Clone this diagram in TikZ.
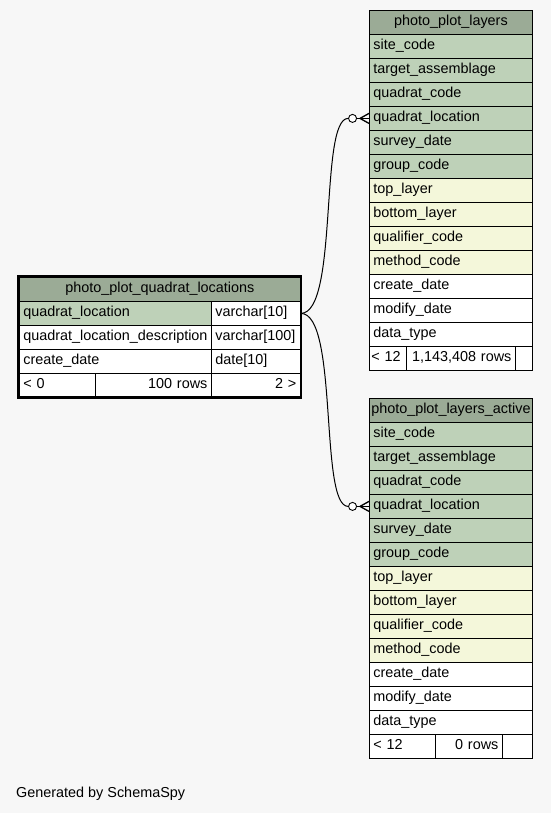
\documentclass[tikz,border=0pt]{standalone}
\usepackage{fontspec}
\setmainfont{Liberation Sans}
\usepackage{tikz}
\usetikzlibrary{positioning}
\definecolor{cHead}{HTML}{9BAB96}
\definecolor{cKey}{HTML}{BED1B8}
\definecolor{cIdx}{HTML}{F4F7DA}
\definecolor{cBack}{HTML}{F7F7F7}
\newcommand{\cellfont}{\fontsize{14.4}{16}\selectfont}

\begin{document}
\begin{tikzpicture}[
  x=1pt, y=-1pt,
  cell/.style={draw=black, line width=0.8pt, minimum height=24pt,
               inner xsep=4pt, inner ysep=0pt, anchor=north west,
               font=\cellfont, text height=10pt, text depth=3pt},
  lcell/.style={cell, align=left},
  rcell/.style={cell, align=right},
  head/.style={cell, fill=cHead, align=center, inner xsep=1pt},
  ring/.style={circle, draw=black, fill=white, line width=0.9pt,
               minimum size=8pt, inner sep=0pt},
  edge/.style={draw=black, line width=1pt},
  crow/.style={draw=black, line width=1.3pt},
]

% =========================================================================
% Canvas: 551 x 813, one unit = one pixel of the reference, y downwards
% =========================================================================
\fill[cBack] (0,0) rectangle (551,813);
\useasboundingbox (0,0) rectangle (551,813);

% ---- photo_plot_layers (top right) --------------------------------------
\node[head, minimum width=163pt] (lay) at (369,10) {photo\_plot\_layers};
\foreach \i/\f/\c in {1/site\_code/cKey, 2/target\_assemblage/cKey,
                      3/quadrat\_code/cKey, 4/quadrat\_location/cKey,
                      5/survey\_date/cKey, 6/group\_code/cKey,
                      7/top\_layer/cIdx, 8/bottom\_layer/cIdx,
                      9/qualifier\_code/cIdx, 10/method\_code/cIdx,
                      11/create\_date/white, 12/modify\_date/white,
                      13/data\_type/white}{
  \node[lcell, fill=\c, text width=155pt] (lay\i) at (369,10+24*\i) {\f};
}
\node[lcell, fill=white, text width=33pt, inner xsep=2pt] (layf1) at (369,346) {< 12};
\node[rcell, fill=white, text width=101pt] (layf2) at (406,346) {1,143,408 rows};
\node[lcell, fill=white, text width=9pt]   (layf3) at (515,346) {};

% ---- photo_plot_layers_active (bottom right) ----------------------------
\node[head, minimum width=163pt] (act) at (369,398) {photo\_plot\_layers\_active};
\foreach \i/\f/\c in {1/site\_code/cKey, 2/target\_assemblage/cKey,
                      3/quadrat\_code/cKey, 4/quadrat\_location/cKey,
                      5/survey\_date/cKey, 6/group\_code/cKey,
                      7/top\_layer/cIdx, 8/bottom\_layer/cIdx,
                      9/qualifier\_code/cIdx, 10/method\_code/cIdx,
                      11/create\_date/white, 12/modify\_date/white,
                      13/data\_type/white}{
  \node[lcell, fill=\c, text width=155pt] (act\i) at (369,398+24*\i) {\f};
}
\node[lcell, fill=white, text width=58pt] (actf1) at (369,734) {< 12};
\node[rcell, fill=white, text width=59pt] (actf2) at (435,734) {0 rows};
\node[lcell, fill=white, text width=22pt] (actf3) at (502,734) {};

% ---- photo_plot_quadrat_locations (focus table, left) -------------------
\node[head, minimum width=281pt] (loc) at (19,277) {photo\_plot\_quadrat\_locations};
\foreach \i/\f/\c/\t in {1/quadrat\_location/cKey/varchar[10],
                         2/quadrat\_location\_description/white/varchar[100],
                         3/create\_date/white/date[10]}{
  \node[lcell, fill=\c, text width=184pt] (loc\i) at (19,277+24*\i) {\f};
  \node[lcell, fill=white, text width=81pt] (loct\i) at (211,277+24*\i) {\t};
}
\node[lcell, fill=white, text width=68pt]  (locf1) at (19,373)  {< 0};
\node[rcell, fill=white, text width=108pt] (locf2) at (95,373)  {100 rows};
\node[rcell, fill=white, text width=81pt]  (locf3) at (211,373) {2 >};
\draw[line width=2.4pt] (18,276) rectangle (301,397.5);

% ---- relations: one location, many layers -------------------------------
\node[ring, left=12pt of lay4] (o1) {};
\node[ring, left=12pt of act4] (o2) {};
\draw[edge] (loct1.east) .. controls +(38,0) and +(-29,0) .. (o1.west);
\draw[edge] (loct1.east) .. controls +(38,0) and +(-29,0) .. (o2.west);
\foreach \o/\r in {o1/lay4, o2/act4}{
  \draw[crow] (\o.east) -- (\r.west);
  \draw[crow] ([xshift=3pt]\o.east) -- ([yshift=5pt]\r.west);
  \draw[crow] ([xshift=3pt]\o.east) -- ([yshift=-5pt]\r.west);
}

\node[anchor=west, font=\cellfont, inner sep=0pt] (gen) at (16,794)
  {Generated by SchemaSpy};

\end{tikzpicture}
\end{document}
